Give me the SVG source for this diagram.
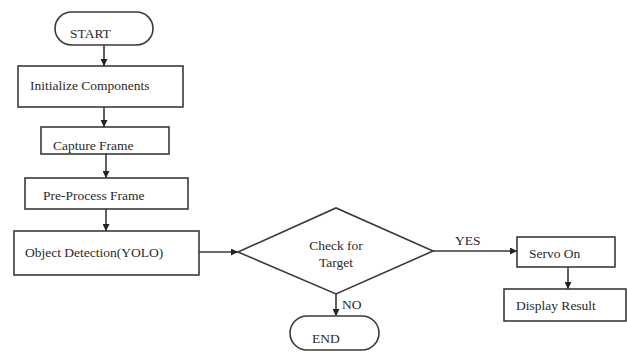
<svg xmlns="http://www.w3.org/2000/svg" width="627" height="353" viewBox="0 0 627 353">
<style>
.s{fill:#fff;stroke:#3a3a3a;stroke-width:1.6}
.t{font-family:'Liberation Serif','Times New Roman','DejaVu Serif',serif;font-size:13.5px;fill:#2a2a2a}
.c{stroke:#3a3a3a;stroke-width:1.6;fill:none}
</style>
<defs>
<marker id="a" viewBox="0 0 10 10" refX="10" refY="5" markerWidth="7" markerHeight="7" markerUnits="userSpaceOnUse" orient="auto">
<path d="M0,0 L10,5 L0,10 z" fill="#222"/>
</marker>
</defs>
<rect width="627" height="353" fill="#fff"/>
<g id="connectors">
<line class="c" x1="104" y1="45" x2="104" y2="66" marker-end="url(#a)"/>
<line class="c" x1="104" y1="107" x2="104" y2="127" marker-end="url(#a)"/>
<line class="c" x1="106" y1="154" x2="106" y2="178" marker-end="url(#a)"/>
<line class="c" x1="106" y1="209" x2="106" y2="231" marker-end="url(#a)"/>
<line class="c" x1="199" y1="252" x2="238" y2="252" marker-end="url(#a)"/>
<line class="c" x1="336" y1="294" x2="336" y2="316" marker-end="url(#a)"/>
<line class="c" x1="433" y1="251" x2="517" y2="251" marker-end="url(#a)"/>
<line class="c" x1="568" y1="267" x2="568" y2="289" marker-end="url(#a)"/>
<text class="t" x="342" y="309" font-family="Liberation Serif, serif">NO</text>
<text class="t" x="455" y="245" font-family="Liberation Serif, serif">YES</text>
</g>
<g id="start">
<rect class="s" x="55" y="12" width="98" height="33" rx="16.5"/>
<text class="t" x="70" y="38" font-family="Liberation Serif, serif">START</text>
</g>
<g id="init">
<rect class="s" x="18" y="66" width="165" height="41"/>
<text class="t" x="30" y="90" font-family="Liberation Serif, serif">Initialize Components</text>
</g>
<g id="capture">
<rect class="s" x="41" y="127" width="128" height="27"/>
<text class="t" x="53" y="150" font-family="Liberation Serif, serif">Capture Frame</text>
</g>
<g id="preprocess">
<rect class="s" x="25" y="178" width="163" height="31"/>
<text class="t" x="43" y="200" font-family="Liberation Serif, serif">Pre-Process Frame</text>
</g>
<g id="detect">
<rect class="s" x="14" y="231" width="185" height="44"/>
<text class="t" x="25" y="257" font-family="Liberation Serif, serif">Object Detection(YOLO)</text>
</g>
<g id="check">
<polygon class="s" points="238,252 336,208 433,251 336,294"/>
<text class="t" x="336" y="250" text-anchor="middle" font-family="Liberation Serif, serif">Check for</text>
<text class="t" x="336" y="267" text-anchor="middle" font-family="Liberation Serif, serif">Target</text>
</g>
<g id="end">
<rect class="s" x="290" y="316" width="89" height="34" rx="17"/>
<text class="t" x="312" y="343" font-family="Liberation Serif, serif">END</text>
</g>
<g id="servo">
<rect class="s" x="517" y="237" width="98" height="30"/>
<text class="t" x="529" y="258" font-family="Liberation Serif, serif">Servo On</text>
</g>
<g id="display">
<rect class="s" x="504" y="289" width="122" height="32"/>
<text class="t" x="516" y="310" font-family="Liberation Serif, serif">Display Result</text>
</g>
</svg>
